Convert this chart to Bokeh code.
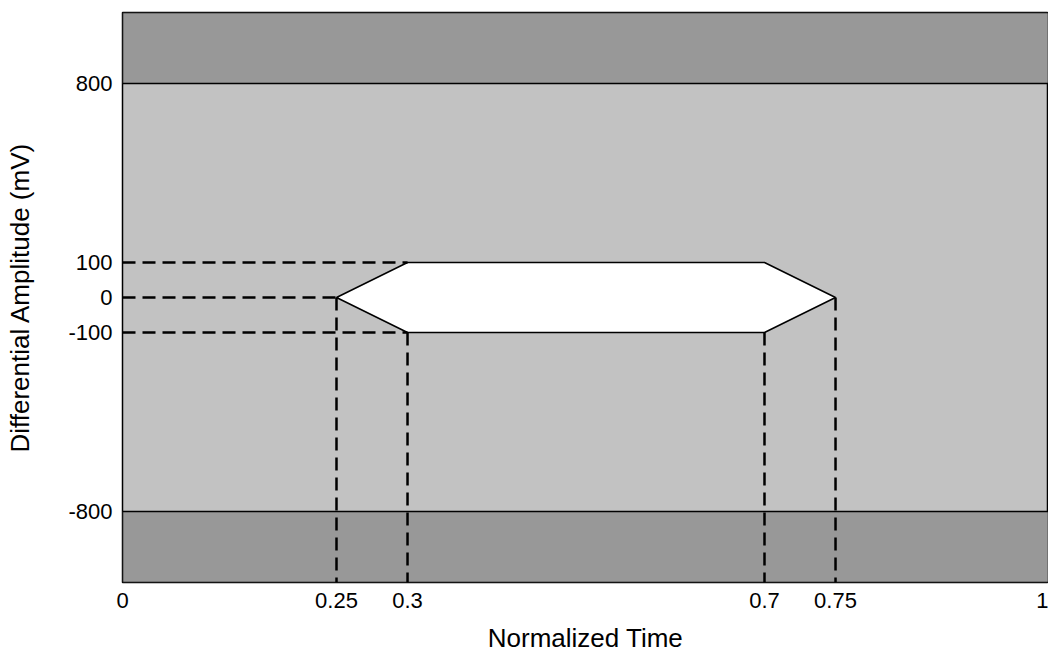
import numpy as np
from bokeh.plotting import figure
from bokeh.embed import file_html
from bokeh.resources import INLINE
from bokeh.models import FixedTicker

# ---- data ----
time_ticks = [0, 0.25, 0.3, 0.7, 0.75, 1]
amp_ticks = [-800, -100, 0, 100, 800]

eye_time = [0.25, 0.3, 0.7, 0.75, 0.7, 0.3]
eye_amp = [0, 100, 100, 0, -100, -100]

# horizontal guide lines: (time at which the guide ends, amplitude)
hguide_time = [0.3, 0.25, 0.3]
hguide_amp = [100, 0, -100]
# vertical guide lines: (time, amplitude at which the guide starts)
vguide_time = [0.25, 0.3, 0.7, 0.75]
vguide_amp = [0, -100, -100, 0]

limit_high = 800
limit_low = -800

# ---- schematic (non-linear) axis layout ----
time_layout = [0, 0.2311, 0.3078, 0.6933, 0.7700, 1.0]
amp_layout = [-214, -35, 0, 35, 214]
amp_extent = 285


def tx(v):
    return np.interp(v, time_ticks, time_layout)


def ay(v):
    return np.interp(v, amp_ticks, amp_layout)


FONT = "Liberation Sans"

p = figure(width=1048, height=655, x_range=(0, 1), y_range=(-amp_extent, amp_extent),
           output_backend="svg", toolbar_location=None,
           min_border_left=122, min_border_top=12, min_border_right=0, min_border_bottom=0)

p.background_fill_color = "#c2c2c2"
p.border_fill_color = "white"
p.outline_line_color = "black"
p.outline_line_width = 1.5
p.grid.visible = False

# dark bands beyond limits
p.quad(left=[0, 0], right=[1, 1],
       bottom=[ay(limit_high), -amp_extent], top=[amp_extent, ay(limit_low)],
       fill_color="#989898", line_color="black", line_width=1.5)

# eye opening
p.patch(tx(eye_time), ay(eye_amp), fill_color="white", line_color="black", line_width=1.5)

# dashed guides
p.multi_line(xs=[[0, tx(t)] for t in hguide_time],
             ys=[[ay(a), ay(a)] for a in hguide_amp],
             line_color="black", line_width=2.5, line_dash="13 7")
p.multi_line(xs=[[tx(t), tx(t)] for t in vguide_time],
             ys=[[ay(a), -amp_extent] for a in vguide_amp],
             line_color="black", line_width=2.5, line_dash="13 7")

# axes
p.xaxis.ticker = FixedTicker(ticks=list(tx(time_ticks)))
p.xaxis.major_label_overrides = {float(tx(t)): ("%g" % t) for t in time_ticks}
p.yaxis.ticker = FixedTicker(ticks=list(ay(amp_ticks)))
p.yaxis.major_label_overrides = {float(ay(a)): ("%g" % a) for a in amp_ticks}

for ax in (p.xaxis, p.yaxis):
    ax.axis_line_color = None
    ax.major_tick_line_color = None
    ax.minor_tick_line_color = None
    ax.major_tick_out = 0
    ax.major_tick_in = 0
    ax.major_label_text_font = FONT
    ax.major_label_text_font_size = "22px"
    ax.major_label_text_color = "black"
    ax.major_label_standoff = 10
    ax.axis_label_text_font = FONT
    ax.axis_label_text_font_size = "26px"
    ax.axis_label_text_font_style = "normal"
    ax.axis_label_text_color = "black"

p.xaxis.major_label_standoff = 10
p.xaxis.axis_label = "Normalized Time"
p.yaxis.axis_label = "Differential Amplitude (mV)"
p.xaxis.axis_label_standoff = 12
p.yaxis.axis_label_standoff = 30

open("out.html", "w").write(file_html(p, INLINE))
